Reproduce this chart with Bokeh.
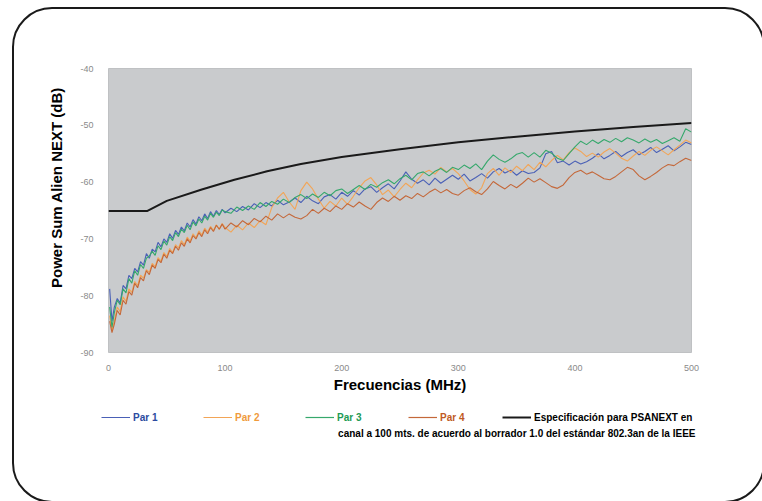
from bokeh.plotting import figure
from bokeh.models import Legend, LegendItem, Label, FixedTicker, Range1d
from bokeh.layouts import column, row
from bokeh.embed import file_html
from bokeh.resources import INLINE

# ---------------- data ----------------
freq = [1, 3, 5, 7.5, 10, 12.5, 15, 17.5, 20, 22.5,
        25, 27.5, 30, 32.5, 35, 37.5, 40, 42.5, 45, 47.5,
        50, 52.5, 55, 57.5, 60, 62.5, 65, 67.5, 70, 72.5,
        75, 77.5, 80, 82.5, 85, 87.5, 90, 92.5, 95, 97.5,
        100, 105, 110, 115, 120, 125, 130, 135, 140, 145,
        150, 155, 160, 165, 170, 175, 180, 185, 190, 195,
        200, 205, 210, 215, 220, 225, 230, 235, 240, 245,
        250, 255, 260, 265, 270, 275, 280, 285, 290, 295,
        300, 305, 310, 315, 320, 325, 330, 335, 340, 345,
        350, 355, 360, 365, 370, 375, 380, 385, 390, 395,
        400, 405, 410, 415, 420, 425, 430, 435, 440, 445,
        450, 455, 460, 465, 470, 475, 480, 485, 490, 495,
        500]

par1 = [-78.8, -84.5, -82.0, -80.5, -81.3, -78.2, -78.8, -76.4, -77.0, -75.2,
        -75.8, -74.0, -74.6, -72.6, -73.4, -71.8, -72.3, -70.6, -71.4, -70.0,
        -70.6, -69.1, -69.9, -68.5, -69.2, -67.9, -68.6, -67.2, -67.9, -66.6,
        -67.4, -66.1, -66.8, -65.6, -66.4, -65.2, -66.0, -65.0, -65.7, -64.8,
        -65.4, -64.6, -65.2, -64.3, -64.9, -63.8, -64.5, -63.6, -64.2, -63.2,
        -64.0, -63.5, -62.8, -63.6, -62.5, -63.3, -63.8, -62.6, -62.2, -63.0,
        -61.8, -62.5, -61.5, -62.3, -61.2, -60.8, -61.8, -61.0, -60.3, -61.2,
        -59.8, -58.2, -59.5, -60.2, -59.6, -60.5, -59.3, -60.2, -59.5, -58.8,
        -59.5, -58.6, -59.8, -59.2, -58.5, -59.3, -58.2, -57.6, -58.4, -57.9,
        -58.8, -58.0, -58.5, -58.3, -57.5, -55.0, -54.6, -56.6, -56.3, -57.0,
        -56.3, -56.8, -56.4, -55.8, -55.0, -55.9, -55.3, -54.6, -55.5, -54.8,
        -54.3, -55.2, -54.6, -53.9, -54.8, -54.2, -53.6, -54.5, -53.8, -53.0,
        -53.4]

par2 = [-83.5, -86.2, -84.5, -82.0, -82.8, -80.2, -81.0, -78.8, -79.4, -77.5,
        -78.2, -76.4, -76.9, -75.4, -75.9, -74.3, -74.9, -73.3, -73.9, -72.4,
        -73.1, -71.7, -72.4, -71.0, -71.6, -70.3, -71.0, -69.7, -70.4, -69.1,
        -69.8, -68.6, -69.3, -68.1, -68.8, -67.8, -68.5, -67.5, -68.3, -67.3,
        -68.0, -68.8, -67.6, -68.4, -67.2, -68.0, -66.8, -67.5, -64.5, -62.8,
        -61.8, -63.5, -64.8, -61.5, -60.0, -61.2, -63.0, -64.6, -63.4, -64.2,
        -62.8, -63.9, -62.5, -61.0, -59.8, -59.2, -60.5, -62.2, -61.4, -62.6,
        -61.3, -60.2, -61.0, -59.6, -58.4, -57.9, -58.6, -57.4, -58.2, -57.6,
        -58.5, -59.8, -61.3, -62.1, -61.0, -58.5, -57.6, -58.8, -57.5, -58.3,
        -57.2, -58.0, -56.9, -57.8, -56.5, -57.3, -56.2, -55.3, -56.1, -54.8,
        -54.0, -54.6, -55.5, -54.9, -55.6, -54.7, -54.1, -54.9, -55.8, -56.3,
        -55.4, -54.6, -55.3, -54.4, -53.8, -54.5, -55.2, -54.3, -53.5, -52.6,
        -53.1]

par3 = [-82.0, -85.6, -83.0, -80.8, -81.6, -78.8, -79.5, -77.0, -77.8, -75.6,
        -76.4, -74.5, -75.2, -73.4, -73.0, -72.2, -72.9, -71.2, -71.9, -70.4,
        -71.1, -69.6, -70.3, -68.9, -69.6, -68.3, -68.9, -67.6, -68.4, -67.0,
        -67.7, -66.5, -67.2, -66.0, -66.7, -65.5, -66.2, -65.3, -65.9, -64.9,
        -65.2, -65.5, -64.4, -65.0, -64.2, -64.8, -63.6, -64.3, -63.4, -63.9,
        -63.0, -63.6, -62.7, -62.2, -62.9, -62.1, -62.7, -61.8, -62.4, -61.5,
        -61.2, -62.0, -61.3, -60.6, -61.3, -60.4, -60.9, -60.1, -59.6, -60.3,
        -59.4, -58.8, -59.6, -58.5, -58.2, -58.9, -58.1, -57.6, -58.3, -57.4,
        -57.8, -57.0, -57.6, -56.8, -57.8, -56.3, -55.2, -56.0, -56.5, -55.9,
        -55.1, -54.8, -55.6, -54.8, -55.6, -54.4, -54.9, -55.8, -56.2, -55.0,
        -53.8, -52.8, -53.4, -52.6, -53.2, -52.5, -53.0, -52.3, -52.9, -52.2,
        -52.6, -53.1, -52.4, -53.0, -52.5, -53.2, -52.7, -52.2, -52.8, -50.6,
        -51.2]

par4 = [-84.5, -86.5, -85.0, -82.6, -83.4, -80.8, -81.5, -79.3, -79.9, -77.8,
        -78.6, -76.8, -77.4, -75.6, -76.3, -74.6, -75.2, -73.6, -74.2, -72.7,
        -73.4, -72.0, -72.6, -71.3, -72.0, -70.7, -71.3, -70.0, -70.7, -69.4,
        -70.0, -68.9, -69.6, -68.4, -69.1, -68.0, -68.7, -67.6, -68.3, -67.4,
        -68.3, -67.2, -67.9, -66.8, -67.5, -66.4, -67.0, -66.0, -66.7, -65.6,
        -66.3, -65.6, -66.2, -66.5, -65.9, -64.8, -65.5, -64.6, -65.2, -64.2,
        -64.8, -63.8, -64.4, -63.5, -64.2, -64.8, -63.6, -62.8, -63.4, -62.5,
        -63.2, -62.4, -62.9, -62.0, -62.6, -61.8, -61.2, -61.9, -61.3, -62.0,
        -62.3, -61.5, -61.0, -61.7, -62.2, -61.2, -59.9, -60.6, -61.2, -60.4,
        -61.0, -60.2, -59.3, -60.0, -59.4, -60.1, -60.8, -61.1, -60.5, -59.2,
        -58.3, -57.9, -58.6, -58.2, -58.8, -59.4, -59.6, -59.0, -58.2, -57.4,
        -57.8, -58.9, -59.6, -59.0, -58.3, -57.5, -56.9, -57.1, -56.4, -55.8,
        -56.2]

spec_freq = [0, 33, 50, 80, 108, 136, 165, 200, 250, 300, 350, 400, 450, 500]
spec_db = [-65.1, -65.1, -63.3, -61.3, -59.6, -58.1, -56.8, -55.6, -54.2,
           -53.0, -52.0, -51.1, -50.3, -49.6]

x_ticks = [0, 100, 200, 300, 400, 500]
x_tick_labels = ["0", "100", "200", "300", "400", "500"]
y_ticks = [-90, -80, -70, -60, -50, -40]
y_tick_labels = ["-90", "-80", "-70", "-60", "-50", "-40"]

series_names = ["Par 1", "Par 2", "Par 3", "Par 4"]
series_colors = ["#4a60b6", "#f2a557", "#36a86c", "#c4683a"]
text_colors = ["#2c4aa0", "#f09a3c", "#1d9a55", "#bf5a24"]
spec_label_1 = "Especificación para PSANEXT en"
spec_label_2 = "canal a 100 mts. de acuerdo al borrador 1.0 del estándar 802.3an de la IEEE"
x_title = "Frecuencias (MHz)"
y_title = "Power Sum Alien NEXT (dB)"

FONT = "Liberation Sans"
W = 749
H1 = 391
H2 = 101
NAN = float("nan")

# ---------------- main figure ----------------
p = figure(width=W, height=H1, output_backend="svg", toolbar_location=None,
           x_range=Range1d(0, 500), y_range=Range1d(-90, -40),
           min_border_left=94, min_border_right=72,
           min_border_top=59, min_border_bottom=48)
p.background_fill_color = "#c9cbcd"
p.border_fill_color = None
p.outline_line_color = "#bfc1c3"
p.grid.visible = False

for ax in (p.xaxis[0], p.yaxis[0]):
    ax.axis_line_color = None
    ax.major_tick_line_color = None
    ax.minor_tick_line_color = None
    ax.major_label_text_font = FONT
    ax.major_label_text_font_size = "9px"
    ax.major_label_text_color = "#8a8a8a"
    ax.axis_label_text_font = FONT
    ax.axis_label_text_font_size = "15px"
    ax.axis_label_text_font_style = "bold"
    ax.axis_label_text_color = "#000000"

p.xaxis.ticker = FixedTicker(ticks=x_ticks)
p.yaxis.ticker = FixedTicker(ticks=y_ticks)
p.xaxis.major_label_overrides = dict(zip(x_ticks, x_tick_labels))
p.yaxis.major_label_overrides = dict(zip(y_ticks, y_tick_labels))
p.xaxis.axis_label = x_title
p.yaxis.axis_label = "\u00a0" * 11 + y_title
p.xaxis.major_label_standoff = 6
p.xaxis.axis_label_standoff = 2
p.yaxis.major_label_standoff = 9
p.yaxis.axis_label_standoff = 12

for data, col in zip([par1, par2, par3, par4], series_colors):
    p.line(freq, data, line_color=col, line_width=1.1)
p.line(spec_freq, spec_db, line_color="#1a1a1a", line_width=2)

# ---------------- legend strip ----------------
p2 = figure(width=W, height=H2, output_backend="svg", toolbar_location=None,
            x_range=Range1d(0, W), y_range=Range1d(0, H2),
            x_axis_type=None, y_axis_type=None,
            min_border_left=0, min_border_right=0,
            min_border_top=0, min_border_bottom=0)
p2.background_fill_color = None
p2.border_fill_color = None
p2.outline_line_color = None
p2.grid.visible = False

legend_x = [87, 189, 291, 394, 488]
legend_y = H2 - 23
labels = series_names + [spec_label_1]
lcols = series_colors + ["#1a1a1a"]
lwidths = [1.2, 1.2, 1.2, 1.2, 2]
tcols = text_colors + ["#000000"]
for lx, lab, lc, lw, tc in zip(legend_x, labels, lcols, lwidths, tcols):
    r = p2.line(x=[NAN], y=[NAN], line_color=lc, line_width=lw)
    lg = Legend(items=[LegendItem(label=lab, renderers=[r])],
                location=(lx, legend_y), orientation="horizontal",
                padding=0, margin=0, border_line_color=None,
                background_fill_alpha=0, glyph_width=29, glyph_height=12,
                label_height=12, label_standoff=3,
                label_text_font=FONT, label_text_font_size="10px",
                label_text_font_style="bold", label_text_color=tc)
    p2.add_layout(lg)

lbl = Label(x=681, y=H2 - 33, text=spec_label_2, text_align="right",
            text_baseline="middle", text_font=FONT, text_font_size="10px",
            text_font_style="bold", text_color="#000000")
p2.add_layout(lbl)

layout = column(p, row(p2), spacing=0,
                styles={"border": "2px solid #1a1a1a", "border-radius": "40px",
                        "margin": "7px 0 0 12px", "overflow": "hidden"})

open("out.html", "w").write(file_html(layout, INLINE))
